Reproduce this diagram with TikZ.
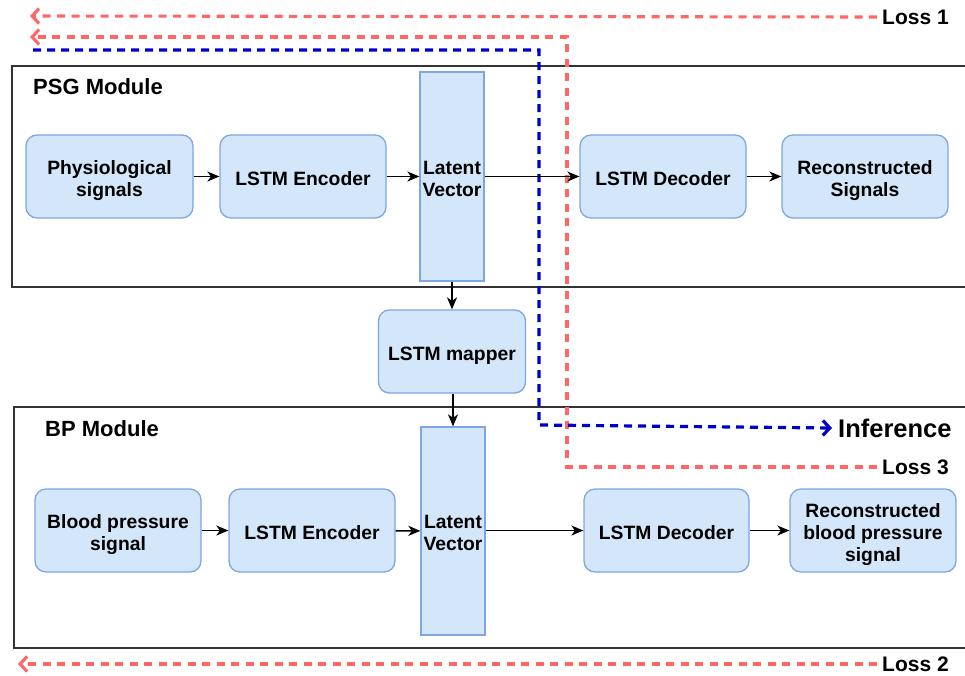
\documentclass[tikz,border=0pt]{standalone}
\usepackage{fontspec}
\setmainfont{Liberation Sans}
\usetikzlibrary{arrows.meta}
\definecolor{boxfill}{HTML}{D4E6F9}
\definecolor{boxline}{HTML}{7EA6E0}
\definecolor{lossred}{HTML}{FF6666}
\definecolor{infblue}{HTML}{0000CC}
\definecolor{frame}{HTML}{333333}
\newcommand\bxtxt[1]{\rule{0pt}{22.8pt}#1\rule[-5pt]{0pt}{5pt}}
\begin{document}
\begin{tikzpicture}[x=1pt,y=-1pt,
  blk/.style={draw=boxline, fill=boxfill, rounded corners=11pt, line width=1.3pt,
    minimum width=166pt, minimum height=83pt, align=center, inner sep=0pt,
    font=\bfseries\fontsize{19.3}{22}\selectfont},
  lat/.style={draw=boxline, fill=boxfill, line width=1.3pt, minimum width=64pt,
    align=center, inner sep=0pt, font=\bfseries\fontsize{19.3}{22}\selectfont},
  modframe/.style={draw=frame, line width=1.8pt},
  modlabel/.style={anchor=west, inner sep=0pt, font=\bfseries\fontsize{22}{24}\selectfont},
  sidelabel/.style={anchor=west, inner sep=5pt, font=\bfseries\fontsize{21}{24}\selectfont},
  conn/.style={draw=black, line width=1.6pt, -{Stealth[length=12pt,width=10pt,inset=3.5pt]}},
  lossline/.style={draw=lossred, line width=3.1pt, dash pattern=on 8pt off 6.5pt,
    -{Straight Barb[length=7pt,width=15pt]}},
  infline/.style={draw=infblue, line width=3.2pt, dash pattern=on 8pt off 6pt,
    -{Straight Barb[length=7pt,width=15pt]}}
]
\useasboundingbox (0,0) rectangle (965,675);

% module frames
\draw[modframe] (966,66) -- (12,66) -- (12,287) -- (966,287);
\draw[modframe] (966,407) -- (14,407) -- (14,648) -- (966,648);
\node[modlabel] (psg) at (33,87) {PSG Module};
\node[modlabel] (bpm) at (45,429) {BP Module};

% side labels
\node[sidelabel] (loss1) at (877,17) {Loss 1};
\node[sidelabel] (loss3) at (877,467) {Loss 3};
\node[sidelabel, font=\bfseries\fontsize{25.5}{28}\selectfont, inner sep=6pt] (inf) at (832,428) {Inference};
\node[sidelabel] (loss2) at (877,664) {Loss 2};

% dashed paths
\coordinate (l1end) at (30,16);
\coordinate (l3end) at (30,37);
\coordinate (l2end) at (18,664);
\coordinate (infstart) at (33,50);
\draw[lossline] (loss1.west) -- (l1end);
\draw[lossline] (loss3.west) -- (567,467) -- (567,37) -- (l3end);
\draw[lossline] (loss2.west) -- (l2end);
\draw[infline] (infstart) -- (539,50) -- (539,425) -- (inf.west);

% PSG module
\node[blk, minimum width=167pt] (phys) at (109.5,176.5) {\bxtxt{Physiological\\signals}};
\node[blk] (enc1) at (303,176.5) {\bxtxt{LSTM Encoder}};
\node[lat, minimum height=209pt] (lat1) at (452,176.5) {\bxtxt{Latent\\Vector}};
\node[blk] (dec1) at (663,176.5) {\bxtxt{LSTM Decoder}};
\node[blk] (rec1) at (865,176.5) {\bxtxt{Reconstructed\\Signals}};

% mapper
\node[blk, minimum width=147pt] (map) at (452,351.5) {\bxtxt{LSTM mapper}};

% BP module
\node[blk] (bp) at (118,530.5) {\bxtxt{Blood pressure\\signal}};
\node[blk] (enc2) at (312,530.5) {\bxtxt{LSTM Encoder}};
\node[lat, minimum height=208pt] (lat2) at (453,531) {\bxtxt{Latent\\Vector}};
\node[blk, minimum width=165pt] (dec2) at (666.5,530.5) {\bxtxt{LSTM Decoder}};
\node[blk] (rec2) at (873,530.5) {\bxtxt{Reconstructed\\blood pressure\\signal}};

% connectors
\draw[conn] (phys) -- (enc1);
\draw[conn] (enc1) -- (lat1);
\draw[conn] (lat1.east |- dec1.west) -- (dec1.west);
\draw[conn] (dec1) -- (rec1);
\draw[conn] (lat1.south) -- (lat1.south |- map.north);
\draw[conn] (map.south -| lat2.north) -- (lat2.north);
\draw[conn] (bp) -- (enc2);
\draw[conn] (enc2) -- (lat2);
\draw[conn] (lat2.east |- dec2.west) -- (dec2.west);
\draw[conn] (dec2) -- (rec2);
\end{tikzpicture}
\end{document}
